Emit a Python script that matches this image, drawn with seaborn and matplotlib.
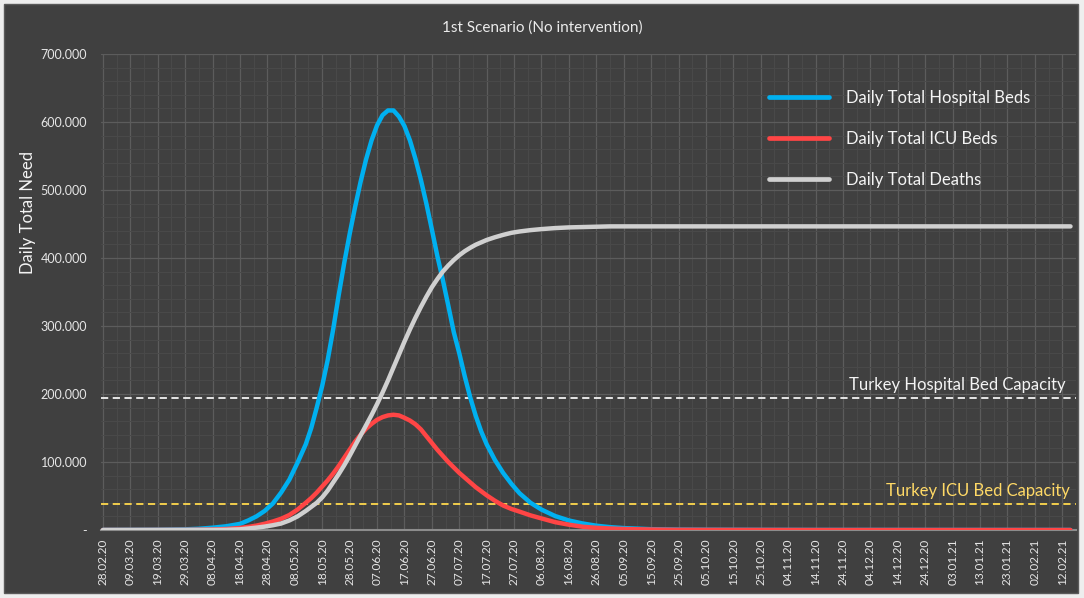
import pandas as pd
import matplotlib.pyplot as plt
import matplotlib.dates as mdates
from matplotlib.ticker import FuncFormatter, MultipleLocator
from matplotlib.patches import Rectangle
from matplotlib.lines import Line2D
import seaborn as sns

# Dados (valores em milhares)
start_date = "2020-02-28"
days_since_start = [0, 10, 20, 30, 35, 40, 45,
                    50, 53, 56, 59, 62, 65, 68, 71, 74,
                    76, 78, 80, 82, 84, 86, 88, 90, 92, 94,
                    96, 98, 100, 102, 104, 106, 108, 110, 112, 114,
                    116, 118, 120, 122, 124, 126, 128, 130, 132, 134,
                    136, 138, 140, 143, 146, 149, 152, 156, 160, 165,
                    170, 175, 180, 185, 190, 200, 210, 220, 240, 260,
                    280, 300, 320, 340, 353]

hospital_beds_k = [0.1, 0.2, 0.4, 1.0, 1.8, 3.4, 5.5,
                   9, 14, 20, 28, 39, 55, 74, 99, 126,
                   150, 180, 212, 250, 295, 345, 392, 435, 475, 512,
                   545, 573, 595, 610, 617, 617, 608, 594, 573, 546,
                   515, 480, 442, 403, 368, 330, 291, 260, 226, 195,
                   168, 145, 126, 103, 84, 68, 54, 40, 30, 20.5,
                   14, 9.6, 6.3, 4.2, 2.8, 1.2, 0.6, 0.4, 0.2, 0.1,
                   0.1, 0.05, 0.05, 0.05, 0.05]

icu_beds_k = [0, 0, 0.1, 0.2, 0.4, 0.7, 1.5,
              3, 4.5, 6.5, 9.2, 12.5, 16.5, 22, 30, 40,
              47, 55, 64, 73, 83, 94, 106, 118, 130, 140,
              149, 156, 162, 166, 168.5, 169.5, 168.5, 165, 161, 155.5,
              148, 138, 128, 118, 109, 100, 92, 84, 77, 70,
              63, 57, 51, 43, 36, 31, 27, 21.5, 17, 11.5,
              7.8, 4.8, 3.2, 2.2, 1.5, 0.7, 0.3, 0.2, 0.1, 0,
              0, 0, 0, 0, 0]

deaths_k = [0, 0, 0, 0, 0.05, 0.1, 0.3,
            1, 2.2, 3.5, 5, 7, 9.5, 14, 20, 28,
            34, 40, 48, 58, 70, 82, 95, 109, 124, 139,
            154, 169, 185, 202, 220, 239, 258, 277, 295, 312,
            328, 343, 357, 369, 380, 389, 397, 404, 410, 415,
            419.5, 423, 426.5, 430.5, 434, 437, 439, 441, 442.5, 444,
            445, 445.5, 446, 446.5, 446.5, 446.5, 446.5, 446.5, 446.5, 446.5,
            446.5, 446.5, 446.5, 446.5, 446.5]

series_names = ["Daily Total Hospital Beds", "Daily Total ICU Beds", "Daily Total Deaths"]
series_colors = ["#00b0f0", "#ff4545", "#d0d0d0"]

hospital_capacity = 194000
icu_capacity = 38000

dates = pd.Timestamp(start_date) + pd.to_timedelta(days_since_start, unit="D")
df = pd.DataFrame({
    "date": list(dates) * 3,
    "value": [v * 1000 for v in hospital_beds_k + icu_beds_k + deaths_k],
    "series": [n for n in series_names for _ in days_since_start],
})

bg = "#404040"
sns.set_theme(style="dark")
plt.rcParams["font.family"] = ["Lato", "DejaVu Sans"]

fig = plt.figure(figsize=(10.84, 5.98), dpi=100)
fig.patch.set_facecolor("#eeeeee")
fig.patches.append(Rectangle((4 / 1084, 5 / 598), 1074 / 1084, 589 / 598,
                             transform=fig.transFigure, facecolor=bg,
                             edgecolor="#5a5a5a", lw=1, zorder=-10))
ax = fig.add_axes([101 / 1084, 1 - 530 / 598, 975 / 1084, 476 / 598])
ax.set_facecolor(bg)

sns.lineplot(data=df, x="date", y="value", hue="series", hue_order=series_names,
             palette=series_colors, linewidth=3.2, legend=False, ax=ax, zorder=3)
for ln in ax.get_lines():
    ln.set_solid_joinstyle("round")
    ln.set_solid_capstyle("round")

# linhas de capacidade
ax.axhline(hospital_capacity, color="#f2f2f2", lw=1.3, ls=(0, (4, 2.5)), zorder=2)
ax.axhline(icu_capacity, color="#ffd84d", lw=1.3, ls=(0, (4, 2.5)), zorder=2)
ax.annotate("Turkey Hospital Bed Capacity", xy=(0.9897, hospital_capacity),
            xycoords=ax.get_yaxis_transform(), xytext=(0, 4), textcoords="offset points",
            ha="right", va="bottom", color="#f4f4f4", fontsize=12)
ax.annotate("Turkey ICU Bed Capacity", xy=(0.9938, icu_capacity),
            xycoords=ax.get_yaxis_transform(), xytext=(0, 4), textcoords="offset points",
            ha="right", va="bottom", color="#ffd966", fontsize=12)

# eixos
ax.set_ylim(0, 700000)
ax.set_xlim(pd.Timestamp(start_date) - pd.Timedelta(days=0.7),
            pd.Timestamp(start_date) + pd.Timedelta(days=354.4))
ax.yaxis.set_major_locator(MultipleLocator(100000))
ax.yaxis.set_minor_locator(MultipleLocator(20000))
ax.yaxis.set_major_formatter(FuncFormatter(
    lambda v, p: "-" if v == 0 else f"{v:,.0f}".replace(",", ".")))
major_dates = pd.date_range(start_date, periods=36, freq="10D")
minor_dates = pd.date_range(start_date, periods=72, freq="5D")
ax.set_xticks(major_dates)
ax.set_xticks(minor_dates, minor=True)
ax.xaxis.set_major_formatter(mdates.DateFormatter("%d.%m.%y"))
ax.tick_params(axis="x", which="both", length=0, rotation=90, labelsize=8.5,
               labelcolor="#e6e6e6", pad=6)
ax.tick_params(axis="y", which="both", length=0, labelsize=9, labelcolor="#e6e6e6", pad=10)
ax.grid(True, which="major", color="#5c5c5c", lw=0.9)
ax.grid(True, which="minor", color="#4a4a4a", lw=0.7)
ax.set_axisbelow(True)
for s in ["top", "right", "left"]:
    ax.spines[s].set_visible(False)
ax.spines["bottom"].set_color("#8c8c8c")
ax.spines["bottom"].set_linewidth(1.5)
ax.set_xlabel("")
ax.set_ylabel("")

# legenda
handles = [Line2D([0], [0], color=c, lw=3.4, solid_capstyle="round") for c in series_colors]
leg = ax.legend(handles, series_names, loc="upper left", bbox_to_anchor=(769 / 1084, 1 - 90 / 598),
                bbox_transform=fig.transFigure, frameon=False, fontsize=12,
                handlelength=3.6, handletextpad=1.0, labelspacing=1.5,
                borderpad=0, borderaxespad=0)
for t in leg.get_texts():
    t.set_color("#f4f4f4")

fig.text(0.5, 1 - 28 / 598, "1st Scenario (No intervention)", ha="center", va="center",
         color="#ebebeb", fontsize=11)
fig.text(28 / 1084, 1 - 212 / 598, "Daily Total Need", rotation=90, ha="center", va="center",
         color="#f4f4f4", fontsize=12)

plt.savefig("out.png", dpi=100, facecolor=fig.get_facecolor())
